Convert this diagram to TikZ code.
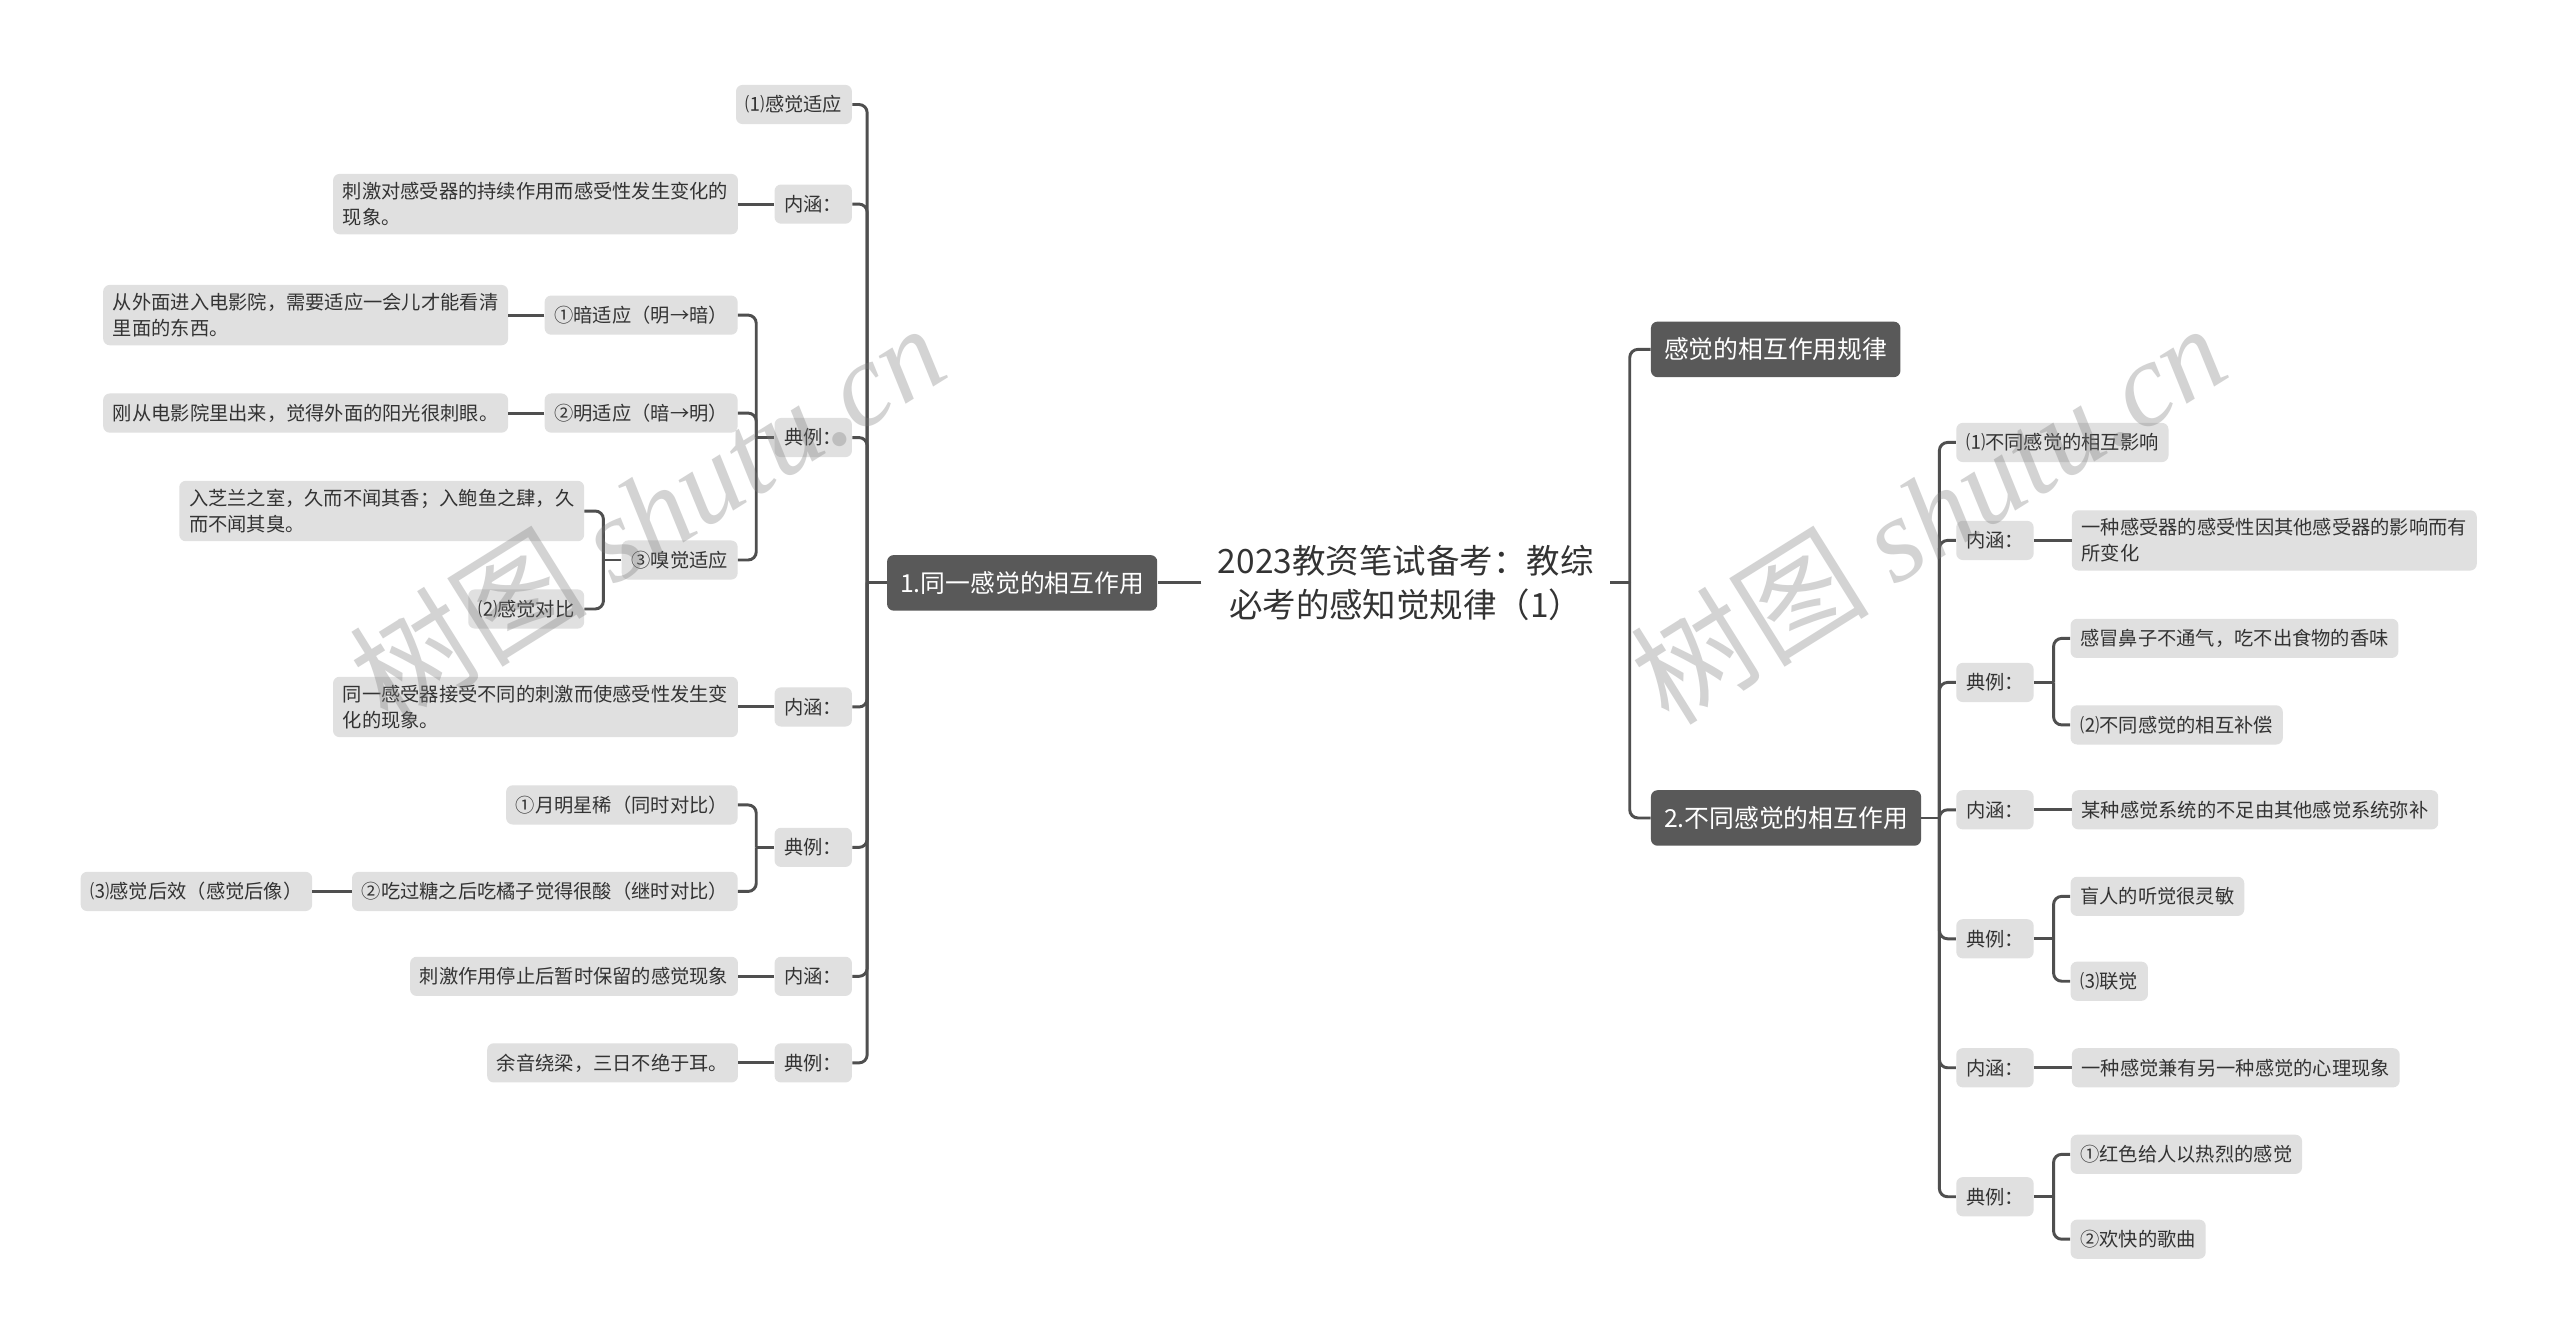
\documentclass[tikz,border=0pt]{standalone}
\usepackage{fontspec}
\setmainfont{Noto Sans CJK SC}
\newfontfamily\wmserif{Liberation Serif}
\usetikzlibrary{positioning}
\definecolor{Ink}{HTML}{333333}
\definecolor{LineGray}{HTML}{4F4F4F}
\definecolor{BoxGray}{HTML}{E0E0E0}
\definecolor{TopicGray}{HTML}{595959}
\definecolor{MarkGray}{HTML}{7A7A7A}

\begin{document}
\begin{tikzpicture}[x=1pt, y=-1pt,
  topic/.style={rounded corners=4pt, fill=TopicGray, text=white, inner xsep=8pt,
                minimum height=34pt, font=\fontsize{15.2}{19}\selectfont},
  leaf/.style={rounded corners=4pt, fill=BoxGray, text=Ink, inner xsep=6pt, inner ysep=5pt,
               minimum height=24pt, align=left, font=\fontsize{11.8}{16}\selectfont},
  conn/.style={draw=LineGray, line width=1.8pt, rounded corners=5pt},
  wmark/.style={text=MarkGray, opacity=0.33, rotate=32, font=\fontsize{73}{73}\selectfont},
  node distance=22pt
]
  \fill[white] (0,0) rectangle (1568,823);
  \useasboundingbox (0,0) rectangle (1568,823);

  % centre
  \node[font=\fontsize{20.5}{27}\selectfont, text=Ink, align=center, inner xsep=10pt] (root)
    at (861,357) {2023教资笔试备考：教综\\必考的感知觉规律（1）};

  % left branch
  \node[topic, anchor=east] (same) at (709,357) {1.同一感觉的相互作用};
  \node[leaf, anchor=east] (a1) at (522,64)  {⑴感觉适应};
  \node[leaf, anchor=east] (a2) at (522,125) {内涵：};
  \node[leaf, anchor=east] (a3) at (522,268) {典例：};
  \node[leaf, anchor=east] (a4) at (522,433) {内涵：};
  \node[leaf, anchor=east] (a5) at (522,519) {典例：};
  \node[leaf, anchor=east] (a6) at (522,598) {内涵：};
  \node[leaf, anchor=east] (a7) at (522,651) {典例：};

  \node[leaf, left=of a2] (a2t) {刺激对感受器的持续作用而感受性发生变化的\\现象。};
  \node[leaf, anchor=east] (c1) at (452,193) {①暗适应（明→暗）};
  \node[leaf, anchor=east] (c2) at (452,253) {②明适应（暗→明）};
  \node[leaf, anchor=east] (c3) at (452,343) {③嗅觉适应};
  \node[leaf, left=of c1] (d1) {从外面进入电影院，需要适应一会儿才能看清\\里面的东西。};
  \node[leaf, left=of c2] (d2) {刚从电影院里出来，觉得外面的阳光很刺眼。};
  \node[leaf, anchor=east] (d3) at (358,313) {入芝兰之室，久而不闻其香；入鲍鱼之肆，久\\而不闻其臭。};
  \node[leaf, anchor=east] (d4) at (358,373) {⑵感觉对比};
  \node[leaf, left=of a4] (a4t) {同一感受器接受不同的刺激而使感受性发生变\\化的现象。};
  \node[leaf, anchor=east] (e1) at (452,493) {①月明星稀（同时对比）};
  \node[leaf, anchor=east] (e2) at (452,546) {②吃过糖之后吃橘子觉得很酸（继时对比）};
  \node[leaf, left=24pt of e2] (f1) {⑶感觉后效（感觉后像）};
  \node[leaf, left=of a6] (a6t) {刺激作用停止后暂时保留的感觉现象};
  \node[leaf, left=of a7] (a7t) {余音绕梁，三日不绝于耳。};

  % right branch
  \node[topic, anchor=west] (r1) at (1011,214) {感觉的相互作用规律};
  \node[topic, anchor=west] (r2) at (1011,501) {2.不同感觉的相互作用};
  \node[leaf, anchor=west] (g1) at (1198,271) {⑴不同感觉的相互影响};
  \node[leaf, anchor=west] (g2) at (1198,331) {内涵：};
  \node[leaf, anchor=west] (g3) at (1198,418) {典例：};
  \node[leaf, anchor=west] (g4) at (1198,496) {内涵：};
  \node[leaf, anchor=west] (g5) at (1198,575) {典例：};
  \node[leaf, anchor=west] (g6) at (1198,654) {内涵：};
  \node[leaf, anchor=west] (g7) at (1198,733) {典例：};

  \node[leaf, right=23pt of g2] (h2) {一种感受器的感受性因其他感受器的影响而有\\所变化};
  \node[leaf, anchor=west] (h3a) at (1268,391) {感冒鼻子不通气，吃不出食物的香味};
  \node[leaf, anchor=west] (h3b) at (1268,444) {⑵不同感觉的相互补偿};
  \node[leaf, right=23pt of g4] (h4) {某种感觉系统的不足由其他感觉系统弥补};
  \node[leaf, anchor=west] (h5a) at (1268,549) {盲人的听觉很灵敏};
  \node[leaf, anchor=west] (h5b) at (1268,601) {⑶联觉};
  \node[leaf, right=23pt of g6] (h6) {一种感觉兼有另一种感觉的心理现象};
  \node[leaf, anchor=west] (h7a) at (1268,707) {①红色给人以热烈的感觉};
  \node[leaf, anchor=west] (h7b) at (1268,759) {②欢快的歌曲};

  % connectors, left
  \draw[conn] (root.west) -- (same.east);
  \draw[conn] (same.west) -- ++(-12,0) coordinate (sameS);
  \foreach \n in {a1,a2,a3,a4,a5,a6,a7} \draw[conn] (sameS) |- (\n.east);
  \draw[conn] (a3.west) -- ++(-11,0) coordinate (a3S);
  \foreach \n in {c1,c2,c3} \draw[conn] (a3S) |- (\n.east);
  \draw[conn] (c3.west) -- ++(-11,0) coordinate (c3S);
  \foreach \n in {d3,d4} \draw[conn] (c3S) |- (\n.east);
  \draw[conn] (a5.west) -- ++(-11,0) coordinate (a5S);
  \foreach \n in {e1,e2} \draw[conn] (a5S) |- (\n.east);
  \draw[conn] (a2.west) -- (a2t.east);
  \draw[conn] (a4.west) -- (a4t.east);
  \draw[conn] (a6.west) -- (a6t.east);
  \draw[conn] (a7.west) -- (a7t.east);
  \draw[conn] (c1.west) -- (d1.east);
  \draw[conn] (c2.west) -- (d2.east);
  \draw[conn] (e2.west) -- (f1.east);

  % connectors, right
  \draw[conn] (root.east) -- ++(12,0) coordinate (rootS);
  \foreach \n in {r1,r2} \draw[conn] (rootS) |- (\n.west);
  \draw[conn] (r2.east) -- ++(11,0) coordinate (r2S);
  \foreach \n in {g1,g2,g3,g4,g5,g6,g7} \draw[conn] (r2S) |- (\n.west);
  \draw[conn] (g3.east) -- ++(12,0) coordinate (g3S);
  \foreach \n in {h3a,h3b} \draw[conn] (g3S) |- (\n.west);
  \draw[conn] (g5.east) -- ++(12,0) coordinate (g5S);
  \foreach \n in {h5a,h5b} \draw[conn] (g5S) |- (\n.west);
  \draw[conn] (g7.east) -- ++(12,0) coordinate (g7S);
  \foreach \n in {h7a,h7b} \draw[conn] (g7S) |- (\n.west);
  \draw[conn] (g2.east) -- (h2.west);
  \draw[conn] (g4.east) -- (h4.west);
  \draw[conn] (g6.east) -- (h6.west);

  % watermarks
  \node[wmark] (wm1) at (396,314) {树图 {\wmserif\itshape shutu.cn}};
  \node[wmark] (wm2) at (1181,314) {树图 {\wmserif\itshape shutu.cn}};
\end{tikzpicture}
\end{document}
